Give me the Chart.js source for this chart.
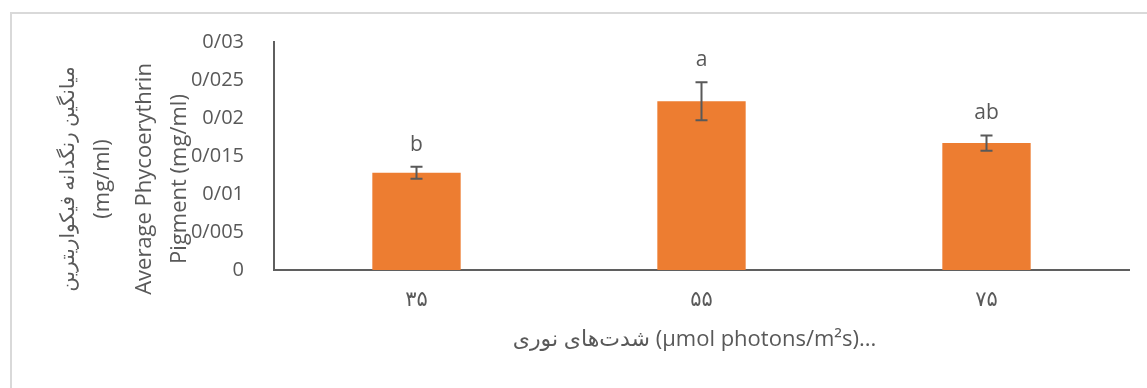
<!DOCTYPE html>
<html>
<head>
<meta charset="utf-8">
<script src="https://cdn.jsdelivr.net/npm/chart.js@4"></script>
<style>
  html, body { margin: 0; padding: 0; background: #fff; }
  #wrap { width: 1147px; height: 388px; }
</style>
</head>
<body>
<div id="wrap"><canvas id="chart"></canvas></div>
<script>
// values
const categories = ['۳۵', '۵۵', '۷۵'];
const means = [0.0128, 0.0222, 0.0167];
const errors = [0.0008, 0.0025, 0.001];
const letters = ['b', 'a', 'ab'];
const yTickLabels = ['0', '0/005', '0/01', '0/015', '0/02', '0/025', '0/03'];
const yTitleLines = ['میانگین رنگدانه فیکواریترین', '(mg/ml)', 'Average Phycoerythrin', 'Pigment (mg/ml)'];
const xTitle = 'شدت‌های نوری (µmol photons/m²s)...';

const FONT = '"Open Sans", "DejaVu Sans", sans-serif';
const TEXT = '#595959';

// light frame around the chart (only top and left edge are inside the picture)
const frame = {
    id: 'frame',
    beforeDraw(chart) {
        const ctx = chart.ctx;
        ctx.save();
        ctx.fillStyle = '#fff';
        ctx.fillRect(0, 0, chart.width, chart.height);
        ctx.strokeStyle = '#d9d9d9';
        ctx.lineWidth = 2;
        ctx.beginPath();
        ctx.moveTo(11, chart.height + 5);
        ctx.lineTo(11, 13);
        ctx.lineTo(chart.width + 5, 13);
        ctx.stroke();
        ctx.restore();
    }
};

// error bars + significance letters
const errorBars = {
    id: 'errorBars',
    afterDatasetsDraw(chart) {
        const ctx = chart.ctx;
        const y = chart.scales.y;
        const meta = chart.getDatasetMeta(0);
        ctx.save();
        ctx.strokeStyle = TEXT;
        ctx.lineWidth = 2;
        meta.data.forEach((bar, i) => {
            const top = y.getPixelForValue(means[i] + errors[i]);
            const bot = y.getPixelForValue(means[i] - errors[i]);
            ctx.beginPath();
            ctx.moveTo(bar.x, top); ctx.lineTo(bar.x, bot);
            ctx.moveTo(bar.x - 6, top); ctx.lineTo(bar.x + 6, top);
            ctx.moveTo(bar.x - 6, bot); ctx.lineTo(bar.x + 6, bot);
            ctx.stroke();
            ctx.fillStyle = TEXT;
            ctx.font = '21px ' + FONT;
            ctx.textAlign = 'center';
            ctx.textBaseline = 'middle';
            ctx.fillText(letters[i], bar.x, top - 22);
        });
        ctx.restore();
    }
};

// axis titles
const titles = {
    id: 'titles',
    afterDraw(chart) {
        const ctx = chart.ctx;
        const area = chart.chartArea;
        ctx.save();
        ctx.fillStyle = TEXT;
        ctx.textAlign = 'center';
        ctx.textBaseline = 'middle';
        ctx.font = '22px ' + FONT;
        ctx.fillText(xTitle, (area.left + area.right) / 2 - 7, 340);
        const xs = [68, 103, 145, 180];
        const sizes = [20, 22, 22, 22];
        yTitleLines.forEach((line, i) => {
            ctx.save();
            ctx.font = sizes[i] + 'px ' + FONT;
            ctx.translate(xs[i], 179);
            ctx.rotate(-Math.PI / 2);
            ctx.fillText(line, 0, 0);
            ctx.restore();
        });
        ctx.restore();
    }
};

new Chart(document.getElementById('chart'), {
    type: 'bar',
    data: {
        labels: categories,
        datasets: [{
            data: means,
            backgroundColor: '#ed7d31',
            categoryPercentage: 1,
            barPercentage: 0.31
        }]
    },
    options: {
        responsive: true,
        maintainAspectRatio: false,
        animation: false,
        devicePixelRatio: 1,
        layout: { padding: { top: 42, right: 18, left: 0, bottom: 0 } },
        plugins: {
            legend: { display: false },
            tooltip: { enabled: false }
        },
        scales: {
            x: {
                grid: { display: false },
                border: { display: true, color: '#5f5f5f', width: 2 },
                ticks: { color: TEXT, font: { size: 21, family: FONT }, padding: 9 },
                afterFit(s) { s.height = 118; }
            },
            y: {
                min: 0,
                max: 0.03,
                grid: { display: false },
                border: { display: true, color: '#5f5f5f', width: 2 },
                ticks: {
                    stepSize: 0.005,
                    color: TEXT,
                    font: { size: 20, family: FONT },
                    padding: 22,
                    callback: (v, i) => yTickLabels[i]
                },
                afterFit(s) { s.width = 274; }
            }
        }
    },
    plugins: [frame, errorBars, titles]
});
</script>
</body>
</html>
